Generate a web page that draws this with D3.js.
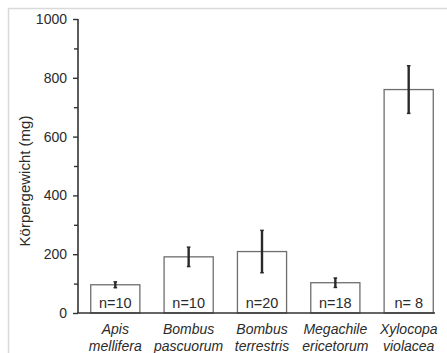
<!DOCTYPE html>
<html><head><meta charset="utf-8">
<script src="https://cdn.jsdelivr.net/npm/d3@7"></script>
<style>body{margin:0;background:#fff}svg{display:block}text{font-family:"Liberation Sans",Arial,sans-serif}</style>
</head><body>
<script>
const species = [["Apis","mellifera"],["Bombus","pascuorum"],["Bombus","terrestris"],["Megachile","ericetorum"],["Xylocopa","violacea"]];
const means = [96, 191, 209, 103, 760];
const errors = [10, 33, 72, 16, 81];
const nLabels = ["n=10","n=10","n=20","n=18","n= 8"];
const yTicks = [0,200,400,600,800,1000];
const yMinorTicks = [100,300,500,700,900];

const W=447,H=353;
const svg=d3.select("body").append("svg").attr("width",W).attr("height",H);
// frame
svg.append("path").attr("d",`M8.5,${H} V8.5 H${W}`).attr("fill","none").attr("stroke","#d9d9d9").attr("stroke-width",1.5);

const x0=78, x1=435, yTop=19, yBot=313;
const y=d3.scaleLinear().domain([0,1000]).range([yBot,yTop]);
const x=d3.scaleBand().domain(species.map((d,i)=>i)).range([79,445]).paddingInner(0.33).paddingOuter(0.16);

const g=svg.append("g");
// bars
g.selectAll("rect.bar").data(means).join("rect")
  .attr("x",(d,i)=>x(i)).attr("width",x.bandwidth())
  .attr("y",d=>y(d)).attr("height",d=>yBot-y(d))
  .attr("fill","#fff").attr("stroke","#6e6e6e").attr("stroke-width",1.3);
// error bars
means.forEach((m,i)=>{
  const cx=x(i)+x.bandwidth()/2;
  g.append("line").attr("x1",cx).attr("x2",cx).attr("y1",y(m+errors[i])).attr("y2",y(m-errors[i])).attr("stroke","#2a2a2a").attr("stroke-width",2.4);
  [m+errors[i],m-errors[i]].forEach(v=>g.append("line").attr("x1",cx-1.8).attr("x2",cx+1.8).attr("y1",y(v)).attr("y2",y(v)).attr("stroke","#2a2a2a").attr("stroke-width",1.5));
});
// n labels
g.selectAll("text.n").data(nLabels).join("text")
  .attr("x",(d,i)=>x(i)+x.bandwidth()/2).attr("y",307.5)
  .attr("text-anchor","middle").attr("font-size",14.5).attr("fill","#2b2b2b").text(d=>d);

// y axis
const yAxis=d3.axisLeft(y).tickValues(yTicks).tickSize(5).tickSizeOuter(0).tickPadding(6).tickFormat(d3.format("d"));
const ya=svg.append("g").attr("transform",`translate(${x0},0)`).call(yAxis);
ya.select(".domain").attr("stroke","#333").attr("stroke-width",1.6).attr("d",`M0,${yTop}V${yBot}`);
ya.selectAll(".tick line").attr("stroke","#333").attr("stroke-width",1.4);
ya.selectAll(".tick text").attr("font-size",14).attr("fill","#2b2b2b").attr("font-family","Liberation Sans, Arial, sans-serif");
const yMinor=d3.axisLeft(y).tickValues(yMinorTicks).tickSize(4).tickFormat("");
const ym=svg.append("g").attr("transform",`translate(${x0},0)`).call(yMinor);
ym.select(".domain").remove();
ym.selectAll(".tick line").attr("stroke","#333").attr("stroke-width",1.4);

// x axis line
svg.append("line").attr("x1",x0-0.8).attr("x2",x1).attr("y1",yBot).attr("y2",yBot).attr("stroke","#333").attr("stroke-width",1.6);

// x labels
species.forEach((s,i)=>{
  const cx=x(i)+x.bandwidth()/2;
  const t=svg.append("text").attr("x",cx).attr("y",334).attr("text-anchor","middle")
    .attr("font-size",14).attr("font-style","italic").attr("fill","#2b2b2b");
  t.append("tspan").attr("x",cx).attr("dy",0).text(s[0]);
  t.append("tspan").attr("x",cx).attr("dy",16.5).text(s[1]);
});

// y label
svg.append("text").attr("transform",`translate(30,181) rotate(-90)`).attr("text-anchor","middle")
  .attr("font-size",15).attr("fill","#2b2b2b").text("Körpergewicht (mg)");
</script>
</body></html>
